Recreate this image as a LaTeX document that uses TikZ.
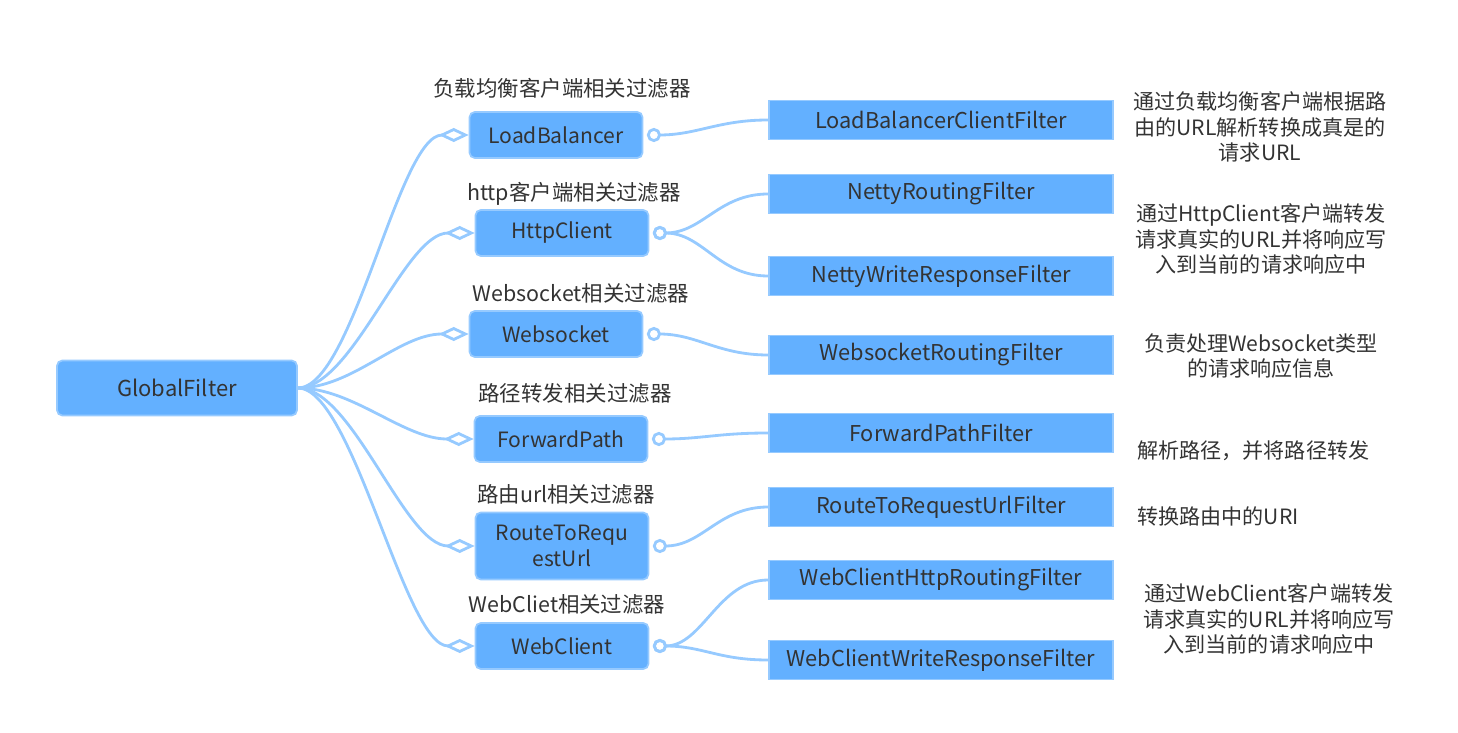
\documentclass[tikz,border=0pt]{standalone}
\usepackage{fontspec}
\setmainfont{Noto Sans CJK SC}
\usetikzlibrary{arrows.meta}
\definecolor{boxfill}{RGB}{99,176,255}
\definecolor{boxline}{RGB}{150,202,255}
\definecolor{wire}{RGB}{150,202,255}
\definecolor{ink}{RGB}{51,51,51}
\tikzset{
  root/.style={draw=boxline, fill=boxfill, line width=1pt, rounded corners=3pt, text=ink, minimum width=4.8cm, minimum height=1.1cm, font=\fontsize{12.5}{15}\selectfont},
  grp/.style={root, minimum width=3.46cm, minimum height=0.92cm, align=center, font=\fontsize{12}{14.6}\selectfont},
  leaf/.style={draw=boxline, fill=boxfill, line width=1pt, text=ink, minimum width=6.88cm, minimum height=0.78cm, font=\fontsize{12.4}{15}\selectfont},
  grpcap/.style={text=ink, inner sep=0pt, font=\fontsize{12.2}{15}\selectfont},
  note/.style={text=ink, align=center, inner sep=0pt, font=\fontsize{12}{14.7}\selectfont},
  branch/.style={draw=wire, line width=1.6pt, -{Diamond[open, length=17pt, width=8pt]}},
  twig/.style={draw=wire, line width=1.6pt, {Circle[open, length=8pt]}-},
}

\begin{document}
\begin{tikzpicture}[x=0.02cm, y=-0.02cm]
  \useasboundingbox (0,0) rectangle (1458,733);

  % root
  \node[root] (gf) at (177,388) {GlobalFilter};

  % groups
  \node[grp] (lb) at (556,135) {LoadBalancer};
  \node[grp] (hc) at (562,233) {HttpClient};
  \node[grp] (ws) at (556,334) {Websocket};
  \node[grp] (fp) at (561,439) {ForwardPath};
  \node[grp, minimum height=1.34cm] (ru) at (562,546) {RouteToRequ\\estUrl};
  \node[grp] (wc) at (562,646) {WebClient};

  % group captions
  \node[grpcap] (lbcap) at (562,88) {负载均衡客户端相关过滤器};
  \node[grpcap] (hccap) at (574,194) {http客户端相关过滤器};
  \node[grpcap] (wscap) at (581,293) {Websocket相关过滤器};
  \node[grpcap] (fpcap) at (575,393) {路径转发相关过滤器};
  \node[grpcap] (rucap) at (566,494) {路由url相关过滤器};
  \node[grpcap] (wccap) at (567,604) {WebCliet相关过滤器};

  % filters
  \node[leaf] (lbf) at (941,120) {LoadBalancerClientFilter};
  \node[leaf] (nrf) at (941,194) {NettyRoutingFilter};
  \node[leaf] (nwf) at (941,276) {NettyWriteResponseFilter};
  \node[leaf] (wsf) at (941,355) {WebsocketRoutingFilter};
  \node[leaf] (fpf) at (941,433) {ForwardPathFilter};
  \node[leaf] (ruf) at (941,507) {RouteToRequestUrlFilter};
  \node[leaf] (whf) at (941,580) {WebClientHttpRoutingFilter};
  \node[leaf] (wwf) at (941,660) {WebClientWriteResponseFilter};

  % notes
  \node[note] (lbn) at (1260,127) {通过负载均衡客户端根据路\\由的URL解析转换成真是的\\请求URL};
  \node[note] (hcn) at (1261,239) {通过HttpClient客户端转发\\请求真实的URL并将响应写\\入到当前的请求响应中};
  \node[note] (wsn) at (1261,356) {负责处理Websocket类型\\的请求响应信息};
  \node[note, anchor=west] (fpn) at (1137,451) {解析路径，并将路径转发};
  \node[note, anchor=west] (run) at (1137,516) {转换路由中的URI};
  \node[note] (wcn) at (1269,619) {通过WebClient客户端转发\\请求真实的URL并将响应写\\入到当前的请求响应中};

  % root to groups
  \foreach \g in {lb,hc,ws,fp,ru,wc}
    \draw[branch] (gf.east) .. controls +(55,0) and +(-70,0) .. (\g.west);

  % groups to filters
  \draw[twig] ([xshift=2pt]lb.east) .. controls +(50,0) and +(-50,0) .. (lbf.west);
  \draw[twig] ([xshift=2pt]hc.east) .. controls +(50,0) and +(-50,0) .. (nrf.west);
  \draw[twig] ([xshift=2pt]hc.east) .. controls +(50,0) and +(-50,0) .. (nwf.west);
  \draw[twig] ([xshift=2pt]ws.east) .. controls +(50,0) and +(-50,0) .. (wsf.west);
  \draw[twig] ([xshift=2pt]fp.east) .. controls +(50,0) and +(-50,0) .. (fpf.west);
  \draw[twig] ([xshift=2pt]ru.east) .. controls +(50,0) and +(-50,0) .. (ruf.west);
  \draw[twig] ([xshift=2pt]wc.east) .. controls +(50,0) and +(-50,0) .. (whf.west);
  \draw[twig] ([xshift=2pt]wc.east) .. controls +(50,0) and +(-50,0) .. (wwf.west);
\end{tikzpicture}
\end{document}
